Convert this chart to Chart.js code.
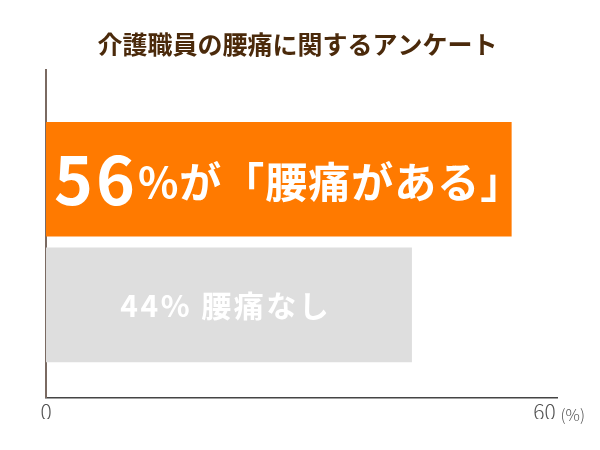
<!DOCTYPE html>
<html lang="ja">
<head>
    <meta charset="UTF-8">
    <title>介護職員の腰痛に関するアンケート</title>
    <script src="https://cdn.jsdelivr.net/npm/chart.js@4.4.0/dist/chart.umd.min.js"></script>
    <style>
        body {
            margin: 0;
            background-color: #ffffff;
        }
        #wrap {
            width: 600px;
            height: 450px;
        }
    </style>
</head>
<body>
    <div id="wrap">
        <canvas id="backPainChart" width="600" height="450"></canvas>
    </div>

    <script>
        // Survey data
        const titleText = '介護職員の腰痛に関するアンケート';
        const answers = ['腰痛がある', '腰痛なし'];
        const percents = [56, 44];
        const rowPositions = [1, 2]; // row index on the vertical axis
        const tickValues = [0, 60];
        const unitLabel = '(%)';

        const barColors = ['#ff7a00', '#dedede'];
        const jpFont = '"Noto Sans CJK JP", "Noto Sans", sans-serif';

        // Draws the white text inside each bar and the unit after the last tick
        const barTextPlugin = {
            id: 'barText',
            afterDatasetsDraw(chart) {
                const ctx = chart.ctx;
                const meta = chart.getDatasetMeta(0);
                ctx.save();
                ctx.fillStyle = '#ffffff';
                ctx.textBaseline = 'middle';
                ctx.textAlign = 'left';

                // first bar: big number + quoted answer
                const b0 = meta.data[0];
                let x = b0.base + 8;
                ctx.letterSpacing = '3px';
                ctx.font = 'bold 66px ' + jpFont;
                ctx.fillText(String(percents[0]), x, b0.y + 1);
                x += ctx.measureText(String(percents[0])).width;
                ctx.letterSpacing = '1px';
                ctx.font = 'bold 42px ' + jpFont;
                ctx.fillText('%が「' + answers[0] + '」', x, b0.y + 3);

                // second bar: smaller centred label
                const b1 = meta.data[1];
                ctx.letterSpacing = '2.5px';
                ctx.font = 'bold 30px ' + jpFont;
                ctx.textAlign = 'center';
                ctx.fillText(percents[1] + '% ' + answers[1], b1.base + (b1.x - b1.base) / 2 - 3, b1.y + 1);

                // unit after the 60 tick
                const xs = chart.scales.x;
                ctx.letterSpacing = '0px';
                ctx.fillStyle = '#555555';
                ctx.font = '300 16px ' + jpFont;
                ctx.textAlign = 'left';
                ctx.fillText(unitLabel, xs.getPixelForValue(60) + 16, xs.top + 17);
                ctx.restore();
            }
        };

        const ctx = document.getElementById('backPainChart').getContext('2d');
        const backPainChart = new Chart(ctx, {
            type: 'bar',
            data: {
                datasets: [{
                    data: rowPositions.map((r, i) => ({ x: percents[i], y: r })),
                    backgroundColor: barColors,
                    borderWidth: 0,
                    barThickness: 114
                }]
            },
            options: {
                indexAxis: 'y',
                responsive: false,
                animation: false,
                layout: {
                    padding: { left: 38, right: 43, top: 0, bottom: 31 }
                },
                plugins: {
                    legend: { display: false },
                    tooltip: { enabled: false },
                    title: {
                        display: true,
                        text: titleText,
                        color: '#4b2a0b',
                        font: { family: jpFont, size: 25, weight: 'bold' },
                        padding: { top: 29, bottom: 11 }
                    }
                },
                scales: {
                    x: {
                        type: 'linear',
                        min: 0,
                        max: 61.5,
                        afterBuildTicks: (axis) => {
                            axis.ticks = tickValues.map(v => ({ value: v }));
                        },
                        grid: { display: false },
                        border: { display: true, color: '#444444', width: 1.5 },
                        ticks: {
                            color: '#555555',
                            padding: -6,
                            maxRotation: 0,
                            font: { family: jpFont, size: 21, weight: '300' }
                        }
                    },
                    y: {
                        type: 'linear',
                        reverse: true,
                        offset: false,
                        min: 0.13,
                        max: 2.74,
                        grid: { display: false, offset: false },
                        border: { display: true, color: '#7a6a62', width: 2 },
                        ticks: { display: false }
                    }
                }
            },
            plugins: [barTextPlugin]
        });
    </script>
</body>
</html>
